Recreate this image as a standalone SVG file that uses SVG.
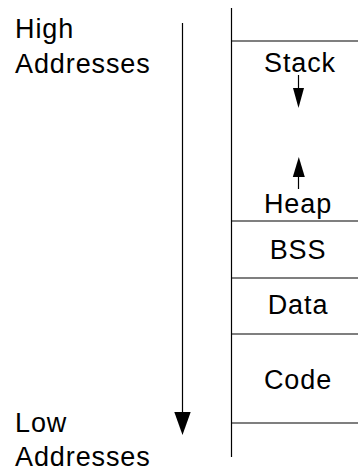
<svg xmlns="http://www.w3.org/2000/svg" width="358" height="470" viewBox="0 0 358 470">
<style>
text{font-family:"Liberation Sans",Arial,sans-serif;font-size:27px;letter-spacing:0.9px;fill:#000}
.c{text-anchor:middle}
.ln{stroke:#000;stroke-width:1.2;fill:none}
.hd{fill:#000;stroke:none}
</style>
<rect width="358" height="470" fill="#fff"/>
<g id="memory-frame">
<line class="ln" x1="231.5" y1="8" x2="231.5" y2="457"/>
</g>
<g id="stack">
<line class="ln" x1="231.5" y1="41" x2="358" y2="41"/>
<text class="c" x="300" y="72">Stack</text>
</g>
<g id="heap">
<text class="c" x="298" y="212.5">Heap</text>
<line class="ln" x1="231.5" y1="221" x2="358" y2="221"/>
</g>
<g id="bss">
<text class="c" x="298" y="258.5">BSS</text>
<line class="ln" x1="231.5" y1="278" x2="358" y2="278"/>
</g>
<g id="data">
<text class="c" x="298" y="314">Data</text>
<line class="ln" x1="231.5" y1="334" x2="358" y2="334"/>
</g>
<g id="code">
<text class="c" x="298" y="388.5">Code</text>
<line class="ln" x1="231.5" y1="423" x2="358" y2="423"/>
</g>
<g id="high-label">
<text x="15" y="38">High</text>
<text x="15" y="73">Addresses</text>
</g>
<g id="low-label">
<text x="15" y="431.5">Low</text>
<text x="15" y="466">Addresses</text>
</g>
<g id="connectors">
<line class="ln" x1="182.5" y1="23" x2="182.5" y2="413"/>
<polygon class="hd" points="174.3,412 190.7,412 182.5,435"/>
<line class="ln" x1="298.5" y1="75" x2="298.5" y2="89"/>
<polygon class="hd" points="293,88 304,88 298.5,108"/>
<line class="ln" x1="298.5" y1="176" x2="298.5" y2="189"/>
<polygon class="hd" points="292.8,177 304.8,177 298.8,157"/>
</g>
</svg>
